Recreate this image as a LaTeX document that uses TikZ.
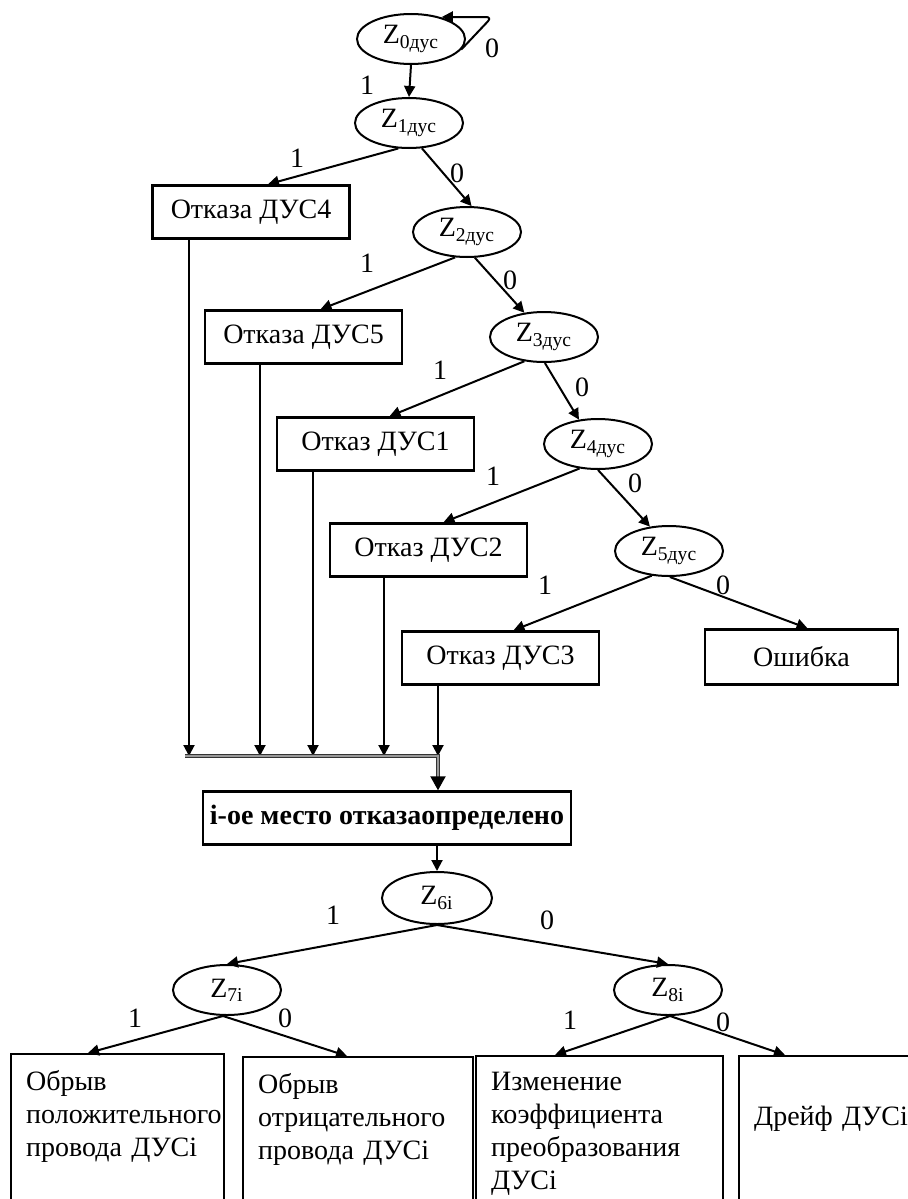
\documentclass[tikz,border=0pt]{standalone}
\usepackage{fontspec}
\setmainfont{Liberation Serif}
\usetikzlibrary{shapes.geometric,arrows.meta}

\begin{document}
\begin{tikzpicture}[x=0.5pt, y=-0.5pt, line width=1pt,
    font=\fontsize{14}{16.5}\selectfont,
    state/.style={ellipse, draw, minimum width=54pt, minimum height=25pt, inner sep=0pt},
    fault/.style={rectangle, draw, line width=1.2pt, minimum width=98.5pt, minimum height=26.5pt},
    result/.style={rectangle, draw, line width=1.2pt, anchor=north west, align=left,
      inner xsep=7.5pt, inner ysep=8pt, text depth=70pt},
    arr/.style={-{Triangle[length=5.5pt,width=5.5pt]}},
    merge/.style={draw=black!80, line width=0.5pt, double=black!40, double distance=1.2pt},
    bit/.style={inner sep=0pt}]
  \useasboundingbox (0,0) rectangle (908,1199);
  \clip (0,0) rectangle (908,1199);

  % sensor chain
  \node[state] (z0) at (411,39)  {Z\textsubscript{0дус}};
  \node[state] (z1) at (409,123) {Z\textsubscript{1дус}};
  \node[state] (z2) at (467,232) {Z\textsubscript{2дус}};
  \node[state] (z3) at (544,337) {Z\textsubscript{3дус}};
  \node[state] (z4) at (598,444) {Z\textsubscript{4дус}};
  \node[state] (z5) at (669,551) {Z\textsubscript{5дус}};

  \node[fault] (d4) at (251,212)   {Отказа ДУС4};
  \node[fault] (d5) at (303.5,337) {Отказа ДУС5};
  \node[fault] (d1) at (375.5,444) {Отказ ДУС1};
  \node[fault] (d2) at (428.5,550) {Отказ ДУС2};
  \node[fault] (d3) at (500.5,658) {Отказ ДУС3};
  \node[fault, minimum width=96.5pt, minimum height=27.5pt] (err) at (801.5,657) {Ошибка};

  \node[fault, minimum width=145pt, font=\fontsize{14}{16.5}\selectfont\bfseries] (fix) at (387,818)
    {i-ое место отказаопределено};

  % kind of failure
  \node[state, minimum width=55pt, minimum height=26pt] (z6) at (437,898) {Z\textsubscript{6i}};
  \node[state] (z7) at (227,990) {Z\textsubscript{7i}};
  \node[state] (z8) at (668,990) {Z\textsubscript{8i}};

  \node[result, text width=91.5pt]  (b1) at (10,1053)  {Обрыв\\положительного\\провода ДУСi};
  \node[result, text width=100pt]   (b2) at (242,1056) {Обрыв\\отрицательного\\провода ДУСi};
  \node[result, text width=108.5pt] (b3) at (475,1055) {Изменение\\коэффициента\\преобразования\\ДУСi};
  \node[result, text width=90pt, inner ysep=25pt] (b4) at (738,1055) {Дрейф ДУСi};

  % arrows
  \coordinate (loop) at (492,17);
  \draw[arr, rounded corners=3pt] (z0.-12) -- (loop) -- (loop -| z0.35);
  \draw[arr] (z0.south) -- (z1.north);
  \draw[arr] (z1.-113) -- ([xshift=8.5pt]d4.north);
  \draw[arr] (z1.-63) -- (z2.80);
  \draw[arr] (z2.-115) -- ([xshift=8.5pt]d5.north);
  \draw[arr] (z2.-73) -- (z3.129);
  \draw[arr] (z3.-129) -- ([xshift=7pt]d1.north);
  \draw[arr] (z3.-88) -- (z4.128);
  \draw[arr] (z4.-127) -- ([xshift=7.5pt]d2.north);
  \draw[arr] (z4.-90) -- (z5.128);
  \draw[arr] (z5.-125) -- ([xshift=6.5pt]d3.north);
  \draw[arr] (z5.-88) -- ([xshift=3pt]err.north);

  \coordinate (mrgL) at (185,756);
  \coordinate (mrg) at (438,756);
  \coordinate (drop) at (438,777);
  \foreach \b/\dx in {d4/-31pt, d5/-21.75pt, d1/-31.25pt, d2/-22.25pt, d3/-31.25pt}
    \draw[arr] ([xshift=\dx]\b.south) -- ([xshift=\dx]\b.south |- mrg);
  \draw[merge] (mrgL) -- (mrg) -- (drop);
  \draw[-{Triangle[length=7pt,width=7.5pt]}] (drop) -- (fix.north -| drop);

  \draw[arr] (fix.south -| z6) -- (z6.north);
  \draw[arr] (z6.south) -- (z7.north);
  \draw[arr] (z6.south) -- (z8.north);
  \draw[arr] ([xshift=-2pt]z7.south) -- ([xshift=39pt]b1.north west);
  \draw[arr] ([xshift=-2pt]z7.south) -- ([xshift=52.5pt]b2.north west);
  \draw[arr] ([xshift=1pt]z8.south) -- ([xshift=40pt]b3.north west);
  \draw[arr] ([xshift=1pt]z8.south) -- ([xshift=23.5pt]b4.north west);

  % branch values
  \foreach \n/\t/\x/\y in {a/0/492/48, b/1/367/85, c/1/297/158, d/0/457/173,
      e/1/367/263, f/0/510/280, g/1/440/370, h/0/582/387, i/1/493/476, j/0/635/483,
      k/1/545/585, l/0/723/585, m/1/333/915, n/0/547/920, o/1/135/1018, p/0/285/1018,
      q/1/570/1020, r/0/723/1022}
    \node[bit] (v\n) at (\x,\y) {\t};
\end{tikzpicture}
\end{document}
